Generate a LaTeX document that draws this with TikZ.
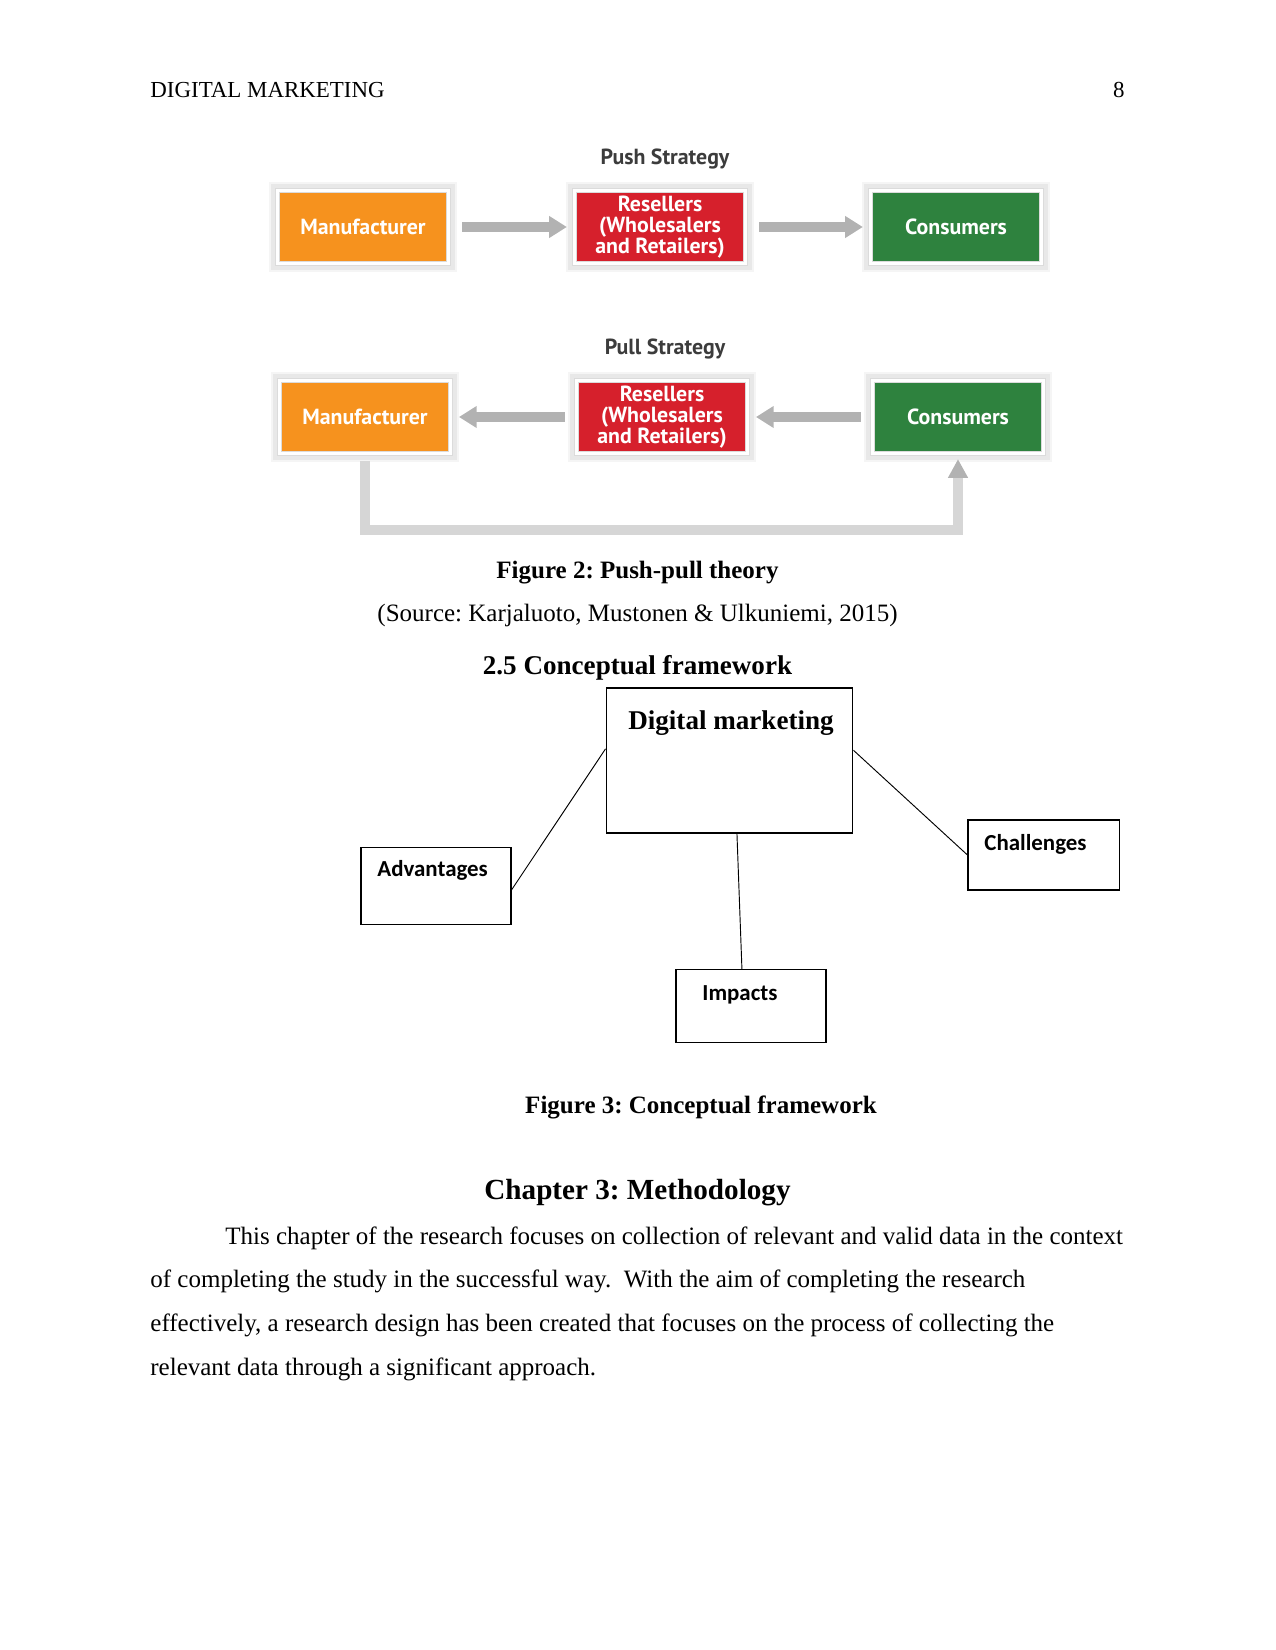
\documentclass[tikz,border=0pt]{standalone}
\usepackage{fontspec}
\setmainfont{Liberation Serif}
\newfontfamily\calibri{Carlito}
\newfontfamily\figsans{PT Sans}
\usetikzlibrary{arrows.meta,positioning,calc}
\definecolor{BoxOrange}{RGB}{246,146,30}
\definecolor{BoxRed}{RGB}{214,32,44}
\definecolor{BoxGreen}{RGB}{46,130,62}
\definecolor{ArrowGray}{RGB}{178,178,178}
\definecolor{BarGray}{RGB}{214,214,214}
\definecolor{TitleGray}{RGB}{60,60,60}
\frenchspacing

\begin{document}
\begin{tikzpicture}[x=0.48pt, y=-0.48pt,
    stratbox/.style={fill=#1, draw=white, line width=1.4pt, text=white,
      font=\figsans\bfseries\fontsize{10.5}{10}\selectfont, align=center,
      minimum width=82pt, minimum height=35pt, inner sep=0pt,
      preaction={draw=black!9, line width=6pt,
        preaction={draw=black!4, line width=8.5pt}},
      postaction={draw=black!14, line width=2.6pt},
      postaction={draw=white, line width=1.4pt}},
    flowarrow/.style={draw=ArrowGray, line width=4.4pt,
      -{Triangle[width=10pt,length=8.5pt]}},
    stratlabel/.style={font=\figsans\bfseries\fontsize{10.5}{12}\selectfont, text=TitleGray},
    cfbox/.style={draw, line width=0.5pt, inner sep=0pt},
    cfline/.style={line width=0.45pt},
    cflabel/.style={font=\calibri\bfseries\fontsize{11}{13}\selectfont,
      anchor=base west, inner sep=0pt},
    textline/.style={anchor=base west, inner sep=0pt, font=\fontsize{12}{14}\selectfont},
    caption/.style={anchor=base, inner sep=0pt, font=\fontsize{12}{14}\selectfont\bfseries}]

  \useasboundingbox (0,0) rectangle (1275,1650);

  % Running head
  \node[textline, font=\fontsize{11}{13}\selectfont] (head) at (150,98) {DIGITAL MARKETING};
  \node[anchor=base east, inner sep=0pt, font=\fontsize{11}{13}\selectfont] (pageno) at (1125,98) {8};

  % Push strategy
  \node[stratlabel] (pushtitle) at (665,159) {Push Strategy};
  \node[stratbox=BoxOrange] (pushm) at (363,227) {Manufacturer};
  \node[stratbox=BoxRed] (pushr) at (660,227) {Resellers\\(Wholesalers\\and Retailers)};
  \node[stratbox=BoxGreen] (pushc) at (956,227) {Consumers};
  \draw[flowarrow, shorten <=6pt, shorten >=3pt] (pushm) -- (pushr);
  \draw[flowarrow, shorten <=6pt, shorten >=3pt] (pushr) -- (pushc);

  % Pull strategy
  \node[stratlabel] (pulltitle) at (665,349) {Pull Strategy};
  \node[stratbox=BoxOrange] (pullm) at (365,417) {Manufacturer};
  \node[stratbox=BoxRed] (pullr) at (662,417) {Resellers\\(Wholesalers\\and Retailers)};
  \node[stratbox=BoxGreen] (pullc) at (958,417) {Consumers};
  \draw[flowarrow, shorten <=5pt, shorten >=3.4pt] (pullr) -- (pullm);
  \draw[flowarrow, shorten <=5pt, shorten >=3.4pt] (pullc) -- (pullr);
  % bar under the boxes
  \coordinate (barleft) at (365,530);
  \draw[draw=BarGray, line width=4.4pt, shorten >=2pt,
    -{Triangle[width=9pt,length=9pt,color=ArrowGray]}]
    ([yshift=-3pt]pullm.south) -- (barleft) -| (pullc.south);

  % Captions
  \node[caption] (fig2cap) at (637.5,578) {Figure 2: Push-pull theory};
  \node[textline, anchor=base] (fig2src) at (637.5,621) {(Source: Karjaluoto, Mustonen \& Ulkuniemi, 2015)};
  \node[caption, font=\bfseries\fontsize{13}{15}\selectfont] (sec25) at (637.5,674) {2.5 Conceptual framework};

  % Conceptual framework
  \node[cfbox, minimum width=118.5pt, minimum height=69.6pt] (dm) at (729.5,760.5) {};
  \node[caption, font=\bfseries\fontsize{13}{15}\selectfont] (dmtext) at (731,729) {Digital marketing};
  \node[cfbox, minimum width=72pt, minimum height=37.4pt] (adv) at (436,886) {};
  \node[cflabel] (advtext) at (377,876) {Advantages};
  \node[cfbox, minimum width=72.5pt, minimum height=33.6pt] (chal) at (1043.5,855) {};
  \node[cflabel] (chaltext) at (984,850) {Challenges};
  \node[cfbox, minimum width=72pt, minimum height=34.6pt] (imp) at (751,1006) {};
  \node[cflabel] (imptext) at (702,1000) {Impacts};
  \draw[cfline] ($(adv.north east)!0.55!(adv.south east)$) -- ($(dm.north west)!0.42!(dm.south west)$);
  \draw[cfline] ($(dm.north east)!0.43!(dm.south east)$) -- (chal.west);
  \draw[cfline] ($(dm.south west)!0.53!(dm.south east)$) -- ($(imp.north west)!0.44!(imp.north east)$);

  \node[caption] (fig3cap) at (701,1113) {Figure 3: Conceptual framework};

  % Chapter 3
  \node[caption, font=\bfseries\fontsize{14}{16}\selectfont] (ch3) at (637.5,1199) {Chapter 3: Methodology};
  \node[textline] (para1) at (225,1244) {This chapter of the research focuses on collection of relevant and valid data in the context};
  \node[textline] (para2) at (150,1287.7) {of completing the study in the successful way.\ \ With the aim of completing the research};
  \node[textline] (para3) at (150,1331.4) {effectively, a research design has been created that focuses on the process of collecting the};
  \node[textline] (para4) at (150,1375.1) {relevant data through a significant approach.};
\end{tikzpicture}
\end{document}
